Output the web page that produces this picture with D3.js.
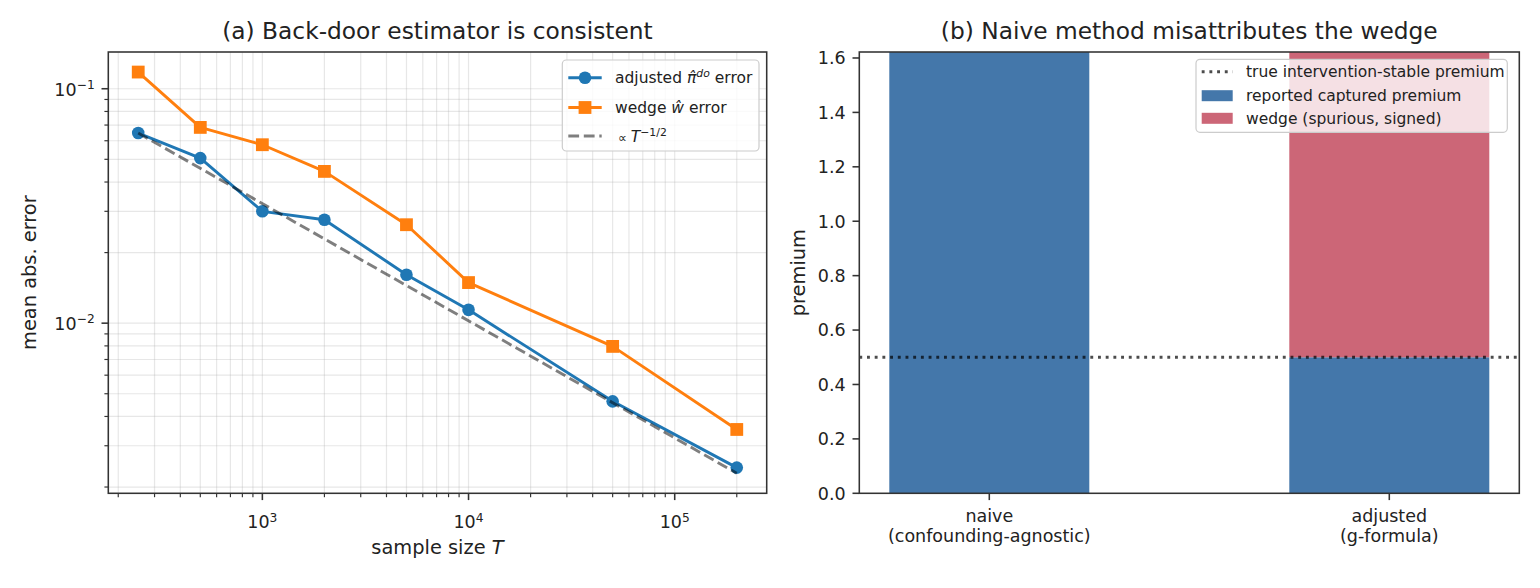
<!DOCTYPE html>
<html>
<head>
<meta charset="utf-8">
<script src="https://cdn.jsdelivr.net/npm/d3@7"></script>
<style>
  html, body { margin: 0; padding: 0; background: #fff; }
  svg { display: block; font-family: "DejaVu Sans", sans-serif; }
</style>
</head>
<body>
<svg id="chart" width="1540" height="588"></svg>
<script>
// ---------------- data ----------------
const sampleSizes = [250, 500, 1000, 2000, 5000, 10000, 50000, 200000];
const adjustedErr = [0.0647, 0.0506, 0.0300, 0.0276, 0.0161, 0.0114, 0.00464, 0.00242];
const wedgeErr    = [0.1178, 0.0684, 0.0577, 0.0444, 0.0263, 0.0149, 0.00796, 0.00352];
const refT   = [250, 200000];
const refErr = [0.0647, 0.00229];
const xMajorTicks = [1e3, 1e4, 1e5];
const xMajorExp   = ["3", "4", "5"];
const yMajorTicks = [1e-1, 1e-2];
const yMajorExp   = ["\u22121", "\u22122"];

const categories = [["naive", "(confounding-agnostic)"], ["adjusted", "(g-formula)"]];
const reportedPremium = [1.622, 0.5];
const wedgePremium    = [0, 1.122];
const truePremium = 0.5;
const premiumTicks = [0, 0.2, 0.4, 0.6, 0.8, 1.0, 1.2, 1.4, 1.6];

// ---------------- setup ----------------
const svg = d3.select("#chart");
const TICK_FS = 17.5, LABEL_FS = 19.4, TITLE_FS = 23.3, LEG_FS = 15.5;
const MAJ = 6.8, MIN = 3.9, PAD = 6.8;
const BLUE = "#1f77b4", ORANGE = "#ff7f0e";

// ---------------- panel (a) ----------------
const A = {l: 108.3, r: 766.7, t: 52, b: 493.3};
const lx = sampleSizes.map(Math.log10);
const lxPad = 0.05 * (d3.max(lx) - d3.min(lx));
const xA = d3.scaleLog()
  .domain([10 ** (d3.min(lx) - lxPad), 10 ** (d3.max(lx) + lxPad)])
  .range([A.l, A.r]);
const allY = adjustedErr.concat(wedgeErr, refErr).map(Math.log10);
const lyPad = 0.05 * (d3.max(allY) - d3.min(allY));
const yA = d3.scaleLog()
  .domain([10 ** (d3.min(allY) - lyPad), 10 ** (d3.max(allY) + lyPad)])
  .range([A.b, A.t]);

function minorTicks(scale) {
  const [d0, d1] = scale.domain();
  const out = [];
  for (let e = Math.floor(Math.log10(d0)); e <= Math.ceil(Math.log10(d1)); e++) {
    for (let m = 1; m <= 9; m++) {
      const v = m * 10 ** e;
      if (v >= d0 && v <= d1) out.push(v);
    }
  }
  return out;
}
const xAllTicks = minorTicks(xA);
const yAllTicks = minorTicks(yA);

const gA = svg.append("g");
// grid
gA.append("g").selectAll("line").data(xAllTicks).join("line")
  .attr("x1", d => xA(d)).attr("x2", d => xA(d))
  .attr("y1", A.t).attr("y2", A.b)
  .attr("stroke", "#b0b0b0").attr("stroke-opacity", 0.3).attr("stroke-width", 1.2);
gA.append("g").selectAll("line").data(yAllTicks).join("line")
  .attr("y1", d => yA(d)).attr("y2", d => yA(d))
  .attr("x1", A.l).attr("x2", A.r)
  .attr("stroke", "#b0b0b0").attr("stroke-opacity", 0.3).attr("stroke-width", 1.2);

// lines
const line = d3.line().x(d => xA(d[0])).y(d => yA(d[1]));
const adjPts = sampleSizes.map((t, i) => [t, adjustedErr[i]]);
const wedgePts = sampleSizes.map((t, i) => [t, wedgeErr[i]]);
const refPts = refT.map((t, i) => [t, refErr[i]]);

const plotA = gA.append("g");
plotA.append("path").attr("d", line(adjPts)).attr("fill", "none")
  .attr("stroke", BLUE).attr("stroke-width", 2.9).attr("stroke-linejoin", "round");
plotA.selectAll("circle").data(adjPts).join("circle")
  .attr("cx", d => xA(d[0])).attr("cy", d => yA(d[1])).attr("r", 6.3).attr("fill", BLUE);
plotA.append("path").attr("d", line(wedgePts)).attr("fill", "none")
  .attr("stroke", ORANGE).attr("stroke-width", 2.9).attr("stroke-linejoin", "round");
plotA.selectAll("rect.sq").data(wedgePts).join("rect").attr("class", "sq")
  .attr("x", d => xA(d[0]) - 6.4).attr("y", d => yA(d[1]) - 6.4)
  .attr("width", 12.8).attr("height", 12.8).attr("fill", ORANGE);
plotA.append("path").attr("d", line(refPts)).attr("fill", "none")
  .attr("stroke", "#000").attr("stroke-opacity", 0.5).attr("stroke-width", 2.9)
  .attr("stroke-dasharray", "10.8,4.7");

// axes ticks
function supLabel(text, base, exp) {
  text.text(null);
  text.append("tspan").text(base);
  text.append("tspan").attr("dy", "-0.55em").attr("font-size", "70%").text(exp);
}
const xAxisA = gA.append("g").attr("transform", `translate(0,${A.b})`);
xAxisA.selectAll("line.minor").data(xAllTicks.filter(d => !xMajorTicks.includes(d))).join("line")
  .attr("x1", d => xA(d)).attr("x2", d => xA(d)).attr("y1", 0).attr("y2", MIN)
  .attr("stroke", "#333").attr("stroke-width", 1.17);
xAxisA.selectAll("line.major").data(xMajorTicks).join("line")
  .attr("x1", d => xA(d)).attr("x2", d => xA(d)).attr("y1", 0).attr("y2", MAJ)
  .attr("stroke", "#333").attr("stroke-width", 1.56);
xAxisA.selectAll("text").data(xMajorTicks).join("text")
  .attr("x", d => xA(d)).attr("y", 35).attr("text-anchor", "middle")
  .attr("font-size", TICK_FS).attr("fill", "#222")
  .each(function (d, i) { supLabel(d3.select(this), "10", xMajorExp[i]); });

const yAxisA = gA.append("g").attr("transform", `translate(${A.l},0)`);
yAxisA.selectAll("line.minor").data(yAllTicks.filter(d => !yMajorTicks.includes(d))).join("line")
  .attr("y1", d => yA(d)).attr("y2", d => yA(d)).attr("x1", 0).attr("x2", -MIN)
  .attr("stroke", "#333").attr("stroke-width", 1.17);
yAxisA.selectAll("line.major").data(yMajorTicks).join("line")
  .attr("y1", d => yA(d)).attr("y2", d => yA(d)).attr("x1", 0).attr("x2", -MAJ)
  .attr("stroke", "#333").attr("stroke-width", 1.56);
yAxisA.selectAll("text").data(yMajorTicks).join("text")
  .attr("x", -MAJ - PAD).attr("y", d => yA(d) + 7).attr("text-anchor", "end")
  .attr("font-size", TICK_FS).attr("fill", "#222")
  .each(function (d, i) { supLabel(d3.select(this), "10", yMajorExp[i]); });

// frame
gA.append("rect").attr("x", A.l).attr("y", A.t).attr("width", A.r - A.l).attr("height", A.b - A.t)
  .attr("fill", "none").attr("stroke", "#333").attr("stroke-width", 1.56);

// labels
const xlabA = gA.append("text").attr("x", (A.l + A.r) / 2).attr("y", 554)
  .attr("text-anchor", "middle").attr("font-size", LABEL_FS).attr("fill", "#222");
xlabA.append("tspan").text("sample size ");
xlabA.append("tspan").attr("font-style", "italic").text("T");
gA.append("text").attr("transform", `translate(36,${(A.t + A.b) / 2}) rotate(-90)`)
  .attr("text-anchor", "middle").attr("font-size", LABEL_FS).attr("fill", "#222")
  .text("mean abs. error");
gA.append("text").attr("x", (A.l + A.r) / 2).attr("y", 39).attr("text-anchor", "middle")
  .attr("font-size", TITLE_FS).attr("fill", "#222").text("(a) Back-door estimator is consistent");

// legend (a)
const legA = gA.append("g");
legA.append("rect").attr("x", 562.3).attr("y", 60).attr("width", 196.7).attr("height", 91)
  .attr("rx", 4).attr("fill", "#fff").attr("fill-opacity", 0.8)
  .attr("stroke", "#cccccc").attr("stroke-width", 1.2);
const legRowsA = [77.7, 107.5, 136];
legA.append("line").attr("x1", 568.3).attr("x2", 601.7).attr("y1", legRowsA[0]).attr("y2", legRowsA[0])
  .attr("stroke", BLUE).attr("stroke-width", 2.9);
legA.append("circle").attr("cx", 585).attr("cy", legRowsA[0]).attr("r", 6.3).attr("fill", BLUE);
legA.append("line").attr("x1", 568.3).attr("x2", 601.7).attr("y1", legRowsA[1]).attr("y2", legRowsA[1])
  .attr("stroke", ORANGE).attr("stroke-width", 2.9);
legA.append("rect").attr("x", 585 - 6.4).attr("y", legRowsA[1] - 6.4).attr("width", 12.8).attr("height", 12.8)
  .attr("fill", ORANGE);
legA.append("line").attr("x1", 568.3).attr("x2", 601.7).attr("y1", legRowsA[2]).attr("y2", legRowsA[2])
  .attr("stroke", "#000").attr("stroke-opacity", 0.5).attr("stroke-width", 2.9)
  .attr("stroke-dasharray", "10.8,4.7");

const t1 = legA.append("text").attr("x", 615).attr("y", legRowsA[0] + 5.5)
  .attr("font-size", LEG_FS).attr("fill", "#222");
t1.append("tspan").text("adjusted ");
t1.append("tspan").attr("font-style", "italic").text("\u03c0\u0302");
t1.append("tspan").attr("font-style", "italic").attr("font-size", "70%").attr("dy", "-0.55em").text("do");
t1.append("tspan").attr("dy", "0.385em").text(" error");
const t2 = legA.append("text").attr("x", 615).attr("y", legRowsA[1] + 5.5)
  .attr("font-size", LEG_FS).attr("fill", "#222");
t2.append("tspan").text("wedge ");
t2.append("tspan").attr("font-style", "italic").text("w\u0302");
t2.append("tspan").text(" error");
const t3 = legA.append("text").attr("x", 618).attr("y", legRowsA[2] + 5.5)
  .attr("font-size", LEG_FS).attr("fill", "#222");
t3.append("tspan").attr("font-size", "80%").text("\u221d ");
t3.append("tspan").attr("font-style", "italic").text("T");
t3.append("tspan").attr("font-size", "70%").attr("dy", "-0.55em").text("\u22121/2");

// ---------------- panel (b) ----------------
const B = {l: 859.3, r: 1519.3, t: 52, b: 493.3};
const barW = 0.5;
const xB = d3.scaleLinear()
  .domain([-barW / 2 - 0.05 * (categories.length - 1 + barW), categories.length - 1 + barW / 2 + 0.05 * (categories.length - 1 + barW)])
  .range([B.l, B.r]);
const yB = d3.scaleLinear().domain([0, 1.622]).range([B.b, B.t]);

const gB = svg.append("g");
svg.append("clipPath").attr("id", "clipB").append("rect")
  .attr("x", B.l).attr("y", B.t).attr("width", B.r - B.l).attr("height", B.b - B.t);
const barsB = gB.append("g").attr("clip-path", "url(#clipB)");
barsB.selectAll("rect.rep").data(reportedPremium).join("rect").attr("class", "rep")
  .attr("x", (d, i) => xB(i - barW / 2)).attr("width", (d, i) => xB(i + barW / 2) - xB(i - barW / 2))
  .attr("y", d => yB(d)).attr("height", d => yB(0) - yB(d)).attr("fill", "#4477aa");
barsB.selectAll("rect.wedge").data(wedgePremium).join("rect").attr("class", "wedge")
  .attr("x", (d, i) => xB(i - barW / 2)).attr("width", (d, i) => xB(i + barW / 2) - xB(i - barW / 2))
  .attr("y", (d, i) => yB(reportedPremium[i] + d))
  .attr("height", (d, i) => yB(reportedPremium[i]) - yB(reportedPremium[i] + d))
  .attr("fill", "#cc6677");
gB.append("line").attr("x1", B.l).attr("x2", B.r).attr("y1", yB(truePremium)).attr("y2", yB(truePremium))
  .attr("stroke", "#000").attr("stroke-opacity", 0.7).attr("stroke-width", 2.9)
  .attr("stroke-dasharray", "2.9,4.8");

// axes
const yAxisB = gB.append("g").attr("transform", `translate(${B.l},0)`);
yAxisB.selectAll("line").data(premiumTicks).join("line")
  .attr("y1", d => yB(d)).attr("y2", d => yB(d)).attr("x1", 0).attr("x2", -MAJ)
  .attr("stroke", "#333").attr("stroke-width", 1.56);
yAxisB.selectAll("text").data(premiumTicks).join("text")
  .attr("x", -MAJ - PAD).attr("y", d => yB(d) + 6.3).attr("text-anchor", "end")
  .attr("font-size", TICK_FS).attr("fill", "#222").text(d => d3.format(".1f")(d));
const xAxisB = gB.append("g").attr("transform", `translate(0,${B.b})`);
xAxisB.selectAll("line").data(categories).join("line")
  .attr("x1", (d, i) => xB(i)).attr("x2", (d, i) => xB(i)).attr("y1", 0).attr("y2", MAJ)
  .attr("stroke", "#333").attr("stroke-width", 1.56);
xAxisB.selectAll("text").data(categories).join("text")
  .attr("text-anchor", "middle").attr("font-size", TICK_FS).attr("fill", "#222")
  .each(function (d, i) {
    const t = d3.select(this);
    d.forEach((s, k) => t.append("tspan").attr("x", xB(i)).attr("y", 28.5 + k * 20.3).text(s));
  });

gB.append("rect").attr("x", B.l).attr("y", B.t).attr("width", B.r - B.l).attr("height", B.b - B.t)
  .attr("fill", "none").attr("stroke", "#333").attr("stroke-width", 1.56);
gB.append("text").attr("transform", `translate(805,${(B.t + B.b) / 2}) rotate(-90)`)
  .attr("text-anchor", "middle").attr("font-size", LABEL_FS).attr("fill", "#222").text("premium");
gB.append("text").attr("x", (B.l + B.r) / 2).attr("y", 39).attr("text-anchor", "middle")
  .attr("font-size", TITLE_FS).attr("fill", "#222").text("(b) Naive method misattributes the wedge");

// legend (b)
const legB = gB.append("g");
legB.append("rect").attr("x", 1196).attr("y", 59.3).attr("width", 311.3).attr("height", 73)
  .attr("rx", 4).attr("fill", "#fff").attr("fill-opacity", 0.8)
  .attr("stroke", "#cccccc").attr("stroke-width", 1.2);
const legRowsB = [71.7, 95.7, 118.3];
legB.append("line").attr("x1", 1201.7).attr("x2", 1232.7).attr("y1", legRowsB[0]).attr("y2", legRowsB[0])
  .attr("stroke", "#000").attr("stroke-opacity", 0.7).attr("stroke-width", 2.9)
  .attr("stroke-dasharray", "2.9,4.8");
legB.append("rect").attr("x", 1201.7).attr("y", legRowsB[1] - 5.5).attr("width", 31).attr("height", 11)
  .attr("fill", "#4477aa");
legB.append("rect").attr("x", 1201.7).attr("y", legRowsB[2] - 5.5).attr("width", 31).attr("height", 11)
  .attr("fill", "#cc6677");
const legTextsB = ["true intervention-stable premium", "reported captured premium", "wedge (spurious, signed)"];
legB.selectAll("text").data(legTextsB).join("text")
  .attr("x", 1246).attr("y", (d, i) => legRowsB[i] + 5.5)
  .attr("font-size", LEG_FS).attr("fill", "#222").text(d => d);
</script>
</body>
</html>
